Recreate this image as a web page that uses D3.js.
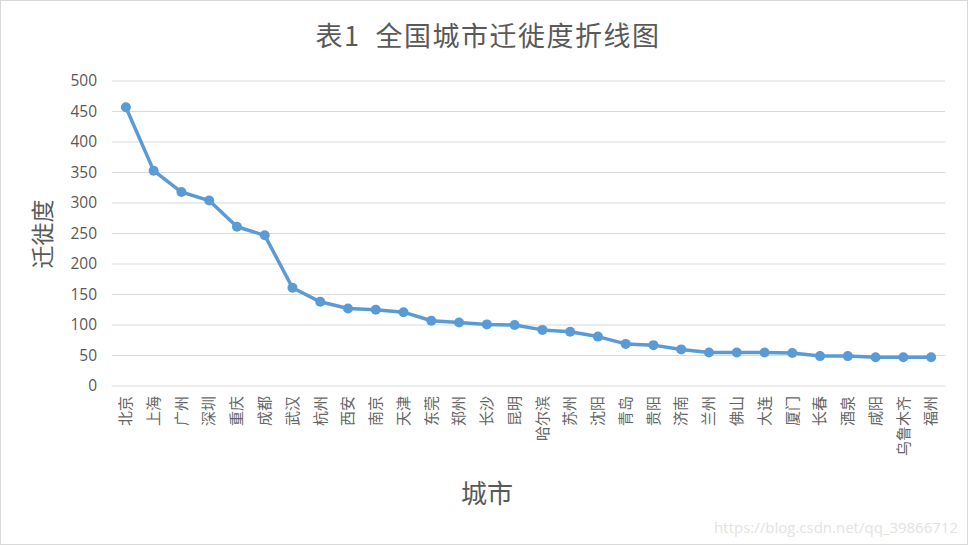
<!DOCTYPE html>
<html><head><meta charset="utf-8">
<script src="https://cdn.jsdelivr.net/npm/d3@7"></script>
<style>body{margin:0;background:#fff}svg{display:block}</style>
</head><body>
<script>
const cities = ["北京","上海","广州","深圳","重庆","成都","武汉","杭州","西安","南京","天津","东莞","郑州","长沙","昆明","哈尔滨","苏州","沈阳","青岛","贵阳","济南","兰州","佛山","大连","厦门","长春","酒泉","咸阳","乌鲁木齐","福州"];
const values = [457,353,318,304,261,247,161,138,127,125,121,107,104,101,100,92,89,81,69,67,60,55,55,55,54,49,49,47,47,47];
const yTicks = [0,50,100,150,200,250,300,350,400,450,500];
const title = "表1  全国城市迁徙度折线图";
const xTitle = "城市";
const yTitle = "迁徙度";
const watermark = "https://blog.csdn.net/qq_39866712";

(function(){
const W = 968, H = 545;
const cjk = "'Noto Sans CJK SC','Noto Sans',sans-serif";
const num = "'Open Sans','Liberation Sans',sans-serif";
const svg = d3.select("body").append("svg").attr("width", W).attr("height", H);
svg.append("rect").attr("x",0.5).attr("y",0.5).attr("width",W-1).attr("height",H-1)
  .attr("fill","#fff").attr("stroke","#d9d9d9");

const pl = 112, pr = 945, pt = 81, pb = 386;
const x = d3.scaleBand().domain(cities).range([pl, pr]);
const y = d3.scaleLinear().domain([0, 500]).range([pb, pt]);

// gridlines
svg.append("g").selectAll("line").data(yTicks).join("line")
  .attr("x1", pl).attr("x2", pr)
  .attr("y1", d => y(d)).attr("y2", d => y(d))
  .attr("stroke", "#d9d9d9").attr("stroke-width", 1);

// y axis
const yAxis = svg.append("g").attr("transform", `translate(${pl},0)`)
  .call(d3.axisLeft(y).tickValues(yTicks).tickSize(0).tickPadding(15));
yAxis.select(".domain").remove();
yAxis.selectAll("text").attr("fill", "#595959").style("font-family", num).style("font-size", "15.5px");

// x axis labels
const xAxis = svg.append("g").attr("transform", `translate(0,${pb})`)
  .call(d3.axisBottom(x).tickSize(0));
xAxis.select(".domain").remove();
xAxis.selectAll("text")
  .attr("fill", "#666").style("font-family", cjk).style("font-size", "15px")
  .attr("text-anchor", "end").attr("dy", "0.35em").attr("y", 0)
  .attr("transform", "translate(0,10) rotate(-90)");

// line
const line = d3.line().x((d,i) => x(cities[i]) + x.bandwidth()/2).y(d => y(d));
svg.append("path").datum(values).attr("d", line)
  .attr("fill", "none").attr("stroke", "#5b9bd5").attr("stroke-width", 3.5)
  .attr("stroke-linejoin", "round");
svg.append("g").selectAll("circle").data(values).join("circle")
  .attr("cx", (d,i) => x(cities[i]) + x.bandwidth()/2).attr("cy", d => y(d))
  .attr("r", 5).attr("fill", "#5b9bd5");

// titles
svg.append("text").attr("x", 488).attr("y", 46).attr("text-anchor", "middle")
  .style("white-space", "pre").style("letter-spacing", "1.5px")
  .style("font-family", cjk).style("font-size", "27px").attr("fill", "#595959").text(title);
svg.append("text").attr("transform", "translate(51,234) rotate(-90)").attr("text-anchor", "middle")
  .style("font-family", cjk).style("font-size", "23px").attr("fill", "#595959").text(yTitle);
svg.append("text").attr("x", 487).attr("y", 503).attr("text-anchor", "middle")
  .style("font-family", cjk).style("font-size", "26px").attr("fill", "#595959").text(xTitle);
svg.append("text").attr("x", 958).attr("y", 533).attr("text-anchor", "end")
  .style("font-family", num).style("font-size", "15px").attr("fill", "#e3e3e3").text(watermark);
})();
</script>
</body></html>
